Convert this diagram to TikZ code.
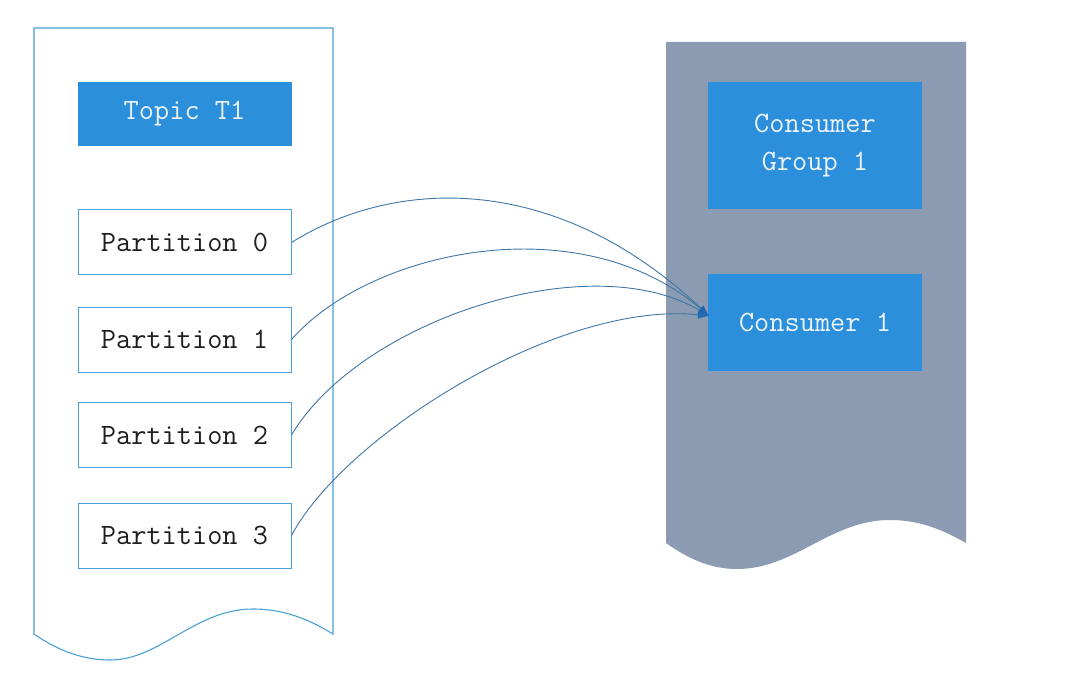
\documentclass[tikz,border=0pt]{standalone}
\usetikzlibrary{arrows.meta}
\definecolor{docblue}{RGB}{74,160,216}
\definecolor{boxblue}{RGB}{43,143,220}
\definecolor{docgray}{RGB}{138,155,178}
\definecolor{linkblue}{RGB}{62,118,165}
\definecolor{tipblue}{RGB}{30,105,175}
\definecolor{textdark}{RGB}{30,30,30}
\definecolor{textlight}{RGB}{235,242,250}
\begin{document}
\begin{tikzpicture}[x=1pt,y=-1pt,
  docline/.style={draw=docblue, line width=1.1pt, fill=white},
  partbox/.style={draw=docblue, line width=1pt, fill=white, minimum width=213pt, minimum height=65pt, inner sep=0pt, font=\fontsize{29.5}{32}\selectfont\ttfamily, text=textdark},
  bluebox/.style={fill=boxblue, minimum width=214pt, inner sep=0pt, align=center, font=\fontsize{29.5}{38}\selectfont\ttfamily, text=textlight},
  link/.style={draw=linkblue, line width=0.9pt, -{Latex[length=11pt,width=8pt,color=tipblue]}}]
\useasboundingbox (0,0) rectangle (1082,679);
% left document shape
\path[docline] (34,28) -- (333,28) -- (333,634)
  .. controls (310,620) and (285,609) .. (253,609)
  .. controls (195,609) and (160,660) .. (110,660)
  .. controls (85,660) and (60,652) .. (34,634) -- cycle;
% right document shape
\path[fill=docgray] (666,42) -- (966,42) -- (966,543)
  .. controls (943,530) and (920,520) .. (890,520)
  .. controls (830,520) and (795,569) .. (737,569)
  .. controls (712,569) and (690,560) .. (666,543) -- cycle;
% nodes
\node[bluebox, minimum height=64pt] (topic) at (184.5,114) {Topic T1};
\node[partbox] (p0) at (184.5,242.5) {Partition 0};
\node[partbox] (p1) at (184.5,339.5) {Partition 1};
\node[partbox] (p2) at (184.5,435) {Partition 2};
\node[partbox] (p3) at (184.5,535.5) {Partition 3};
\node[bluebox, minimum height=127pt] (cg) at (815,145.5) {Consumer\\Group 1};
\node[bluebox, minimum height=96pt] (c1) at (815,322.5) {Consumer 1};
\coordinate (tip) at (709,316);
% connectors
\draw[link] (p0.east) .. controls (400,175) and (560,175) .. (tip);
\draw[link] (p1.east) .. controls (370,250) and (580,205) .. (tip);
\draw[link] (p2.east) .. controls (360,320) and (590,245) .. (tip);
\draw[link] (p3.east) .. controls (345,435) and (560,300) .. (tip);
\end{tikzpicture}
\end{document}
